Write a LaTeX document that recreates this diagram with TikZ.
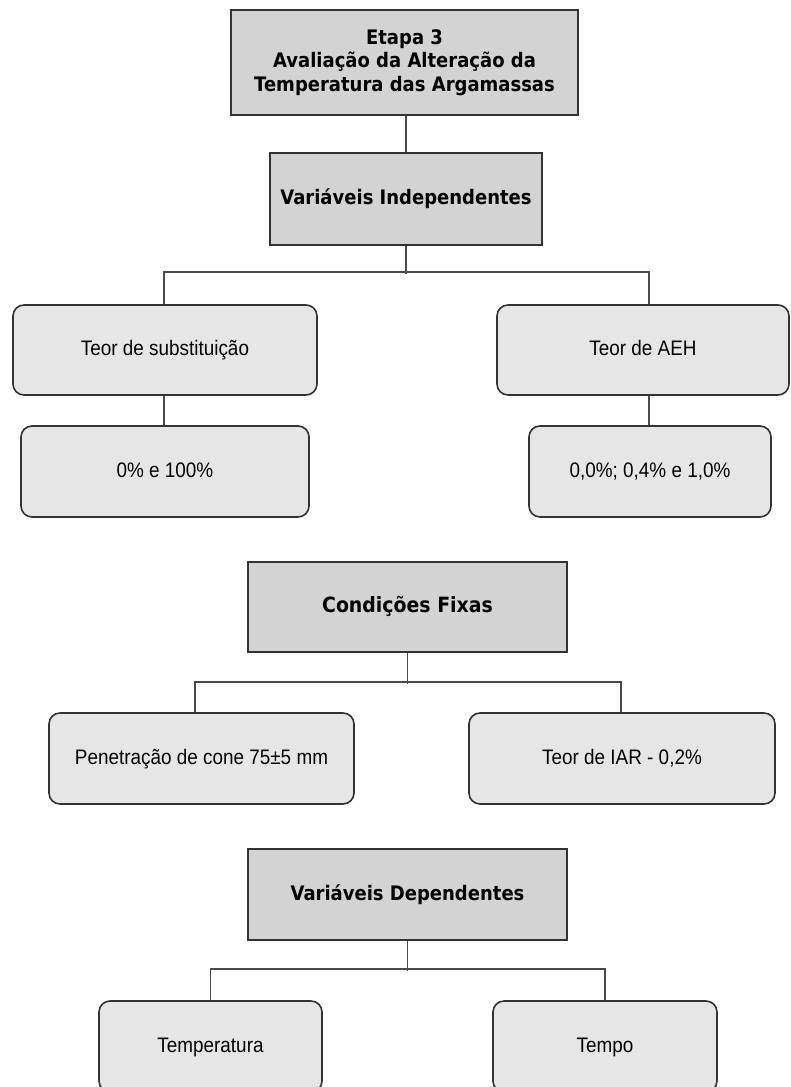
\documentclass[tikz,border=0pt]{standalone}
\usepackage{fontspec}
\setmainfont{Liberation Sans}[FakeStretch=0.9]
\newfontfamily\hdrfont{DejaVu Sans}[FakeStretch=0.9]
\definecolor{hdrfill}{HTML}{D3D3D3}
\definecolor{itemfill}{HTML}{E6E6E6}
\definecolor{edge}{HTML}{333333}
\definecolor{wire}{HTML}{4A4A4A}
\begin{document}
\begin{tikzpicture}[x=1pt,y=-1pt,
  hdrbox/.style={draw=edge,line width=1.6pt,fill=hdrfill,inner sep=0pt,
    font=\hdrfont\bfseries\fontsize{20}{23.5}\selectfont,align=center},
  itembox/.style={draw=edge,line width=1.6pt,fill=itemfill,rounded corners=11pt,inner sep=0pt,
    text height=15pt,text depth=4pt,font=\fontsize{21}{23}\selectfont},
  wirestyle/.style={draw=wire,line width=1.8pt}]
\useasboundingbox (0,0) rectangle (790,1087);
\clip (0,0) rectangle (790,1087);
\fill[white] (0,0) rectangle (790,1087);
% stage 1
\node[hdrbox,minimum width=347,minimum height=105] (top) at (404.5,62.5)
  {Etapa 3\\Avaliação da Alteração da\\Temperatura das Argamassas};
\node[hdrbox,minimum width=272,minimum height=92,text height=15pt,text depth=4pt] (vi) at (406,199) {Variáveis Independentes};
\node[itembox,minimum width=304,minimum height=90] (ts) at (165,350) {Teor de substituição};
\node[itembox,minimum width=292,minimum height=90] (aeh) at (643,350) {Teor de AEH};
\node[itembox,minimum width=288,minimum height=91] (p0) at (165,471.5) {0\% e 100\%};
\node[itembox,minimum width=242,minimum height=91] (p1) at (650,471.5) {0,0\%; 0,4\% e 1,0\%};
% stage 2
\node[hdrbox,minimum width=319,minimum height=90,text height=15pt,text depth=4pt,font=\hdrfont\bfseries\fontsize{21}{23}\selectfont] (cf) at (407.5,607) {Condições Fixas};
\node[itembox,minimum width=305,minimum height=91] (pen) at (201.5,758.5) {Penetração de cone 75±5 mm};
\node[itembox,minimum width=306,minimum height=91] (iar) at (622,758.5) {Teor de IAR - 0,2\%};
% stage 3
\node[hdrbox,minimum width=319,minimum height=91,text height=15pt,text depth=4pt] (vd) at (407.5,894.5) {Variáveis Dependentes};
\node[itembox,minimum width=223,minimum height=91] (temp) at (210.5,1046.5) {Temperatura};
\node[itembox,minimum width=224,minimum height=91] (tempo) at (605,1046.5) {Tempo};
% connectors
\draw[wirestyle] (vi.north) -- (vi.north |- top.south);
\draw[wirestyle] (vi.south) -- ++(0,28);
\draw[wirestyle] ([xshift=-1pt]ts.north) -- ++(0,-32) -| ([xshift=-1pt]p1.north |- aeh.north);
\draw[wirestyle] ([xshift=-1pt]ts.south) -- ([xshift=-1pt]p0.north);
\draw[wirestyle] ([xshift=-1pt]p1.north |- aeh.south) -- ([xshift=-1pt]p1.north);
\draw[wirestyle] (cf.south) -- ++(0,31);
\draw[wirestyle] ([xshift=-6.5pt]pen.north) -- ++(0,-30) -| ([xshift=-1pt]iar.north);
\draw[wirestyle] (vd.south) -- ++(0,30.5);
\draw[wirestyle] (temp.north) -- ++(0,-31) -| (tempo.north);
\end{tikzpicture}
\end{document}
